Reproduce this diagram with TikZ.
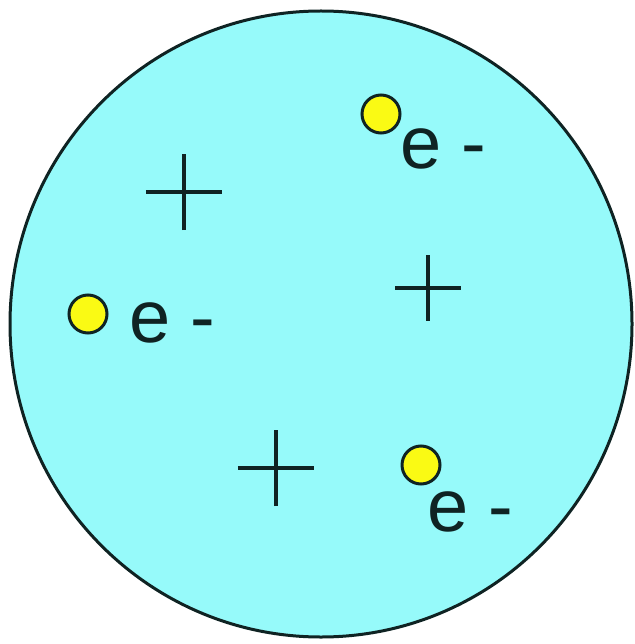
\documentclass[tikz,border=0pt]{standalone}
\usepackage{fontspec}
\setmainfont{Liberation Sans}
\usetikzlibrary{shapes.misc}
\definecolor{plasma}{RGB}{150,250,250}
\definecolor{edge}{RGB}{15,35,35}
\definecolor{electron}{RGB}{250,250,20}
\tikzset{
  elec/.style={circle,draw=edge,fill=electron,line width=3pt,inner sep=0pt,minimum size=38pt},
  ion/.style={cross out,draw=edge,line width=4pt,rotate=45,inner sep=0pt,minimum size=#1},
  lbl/.style={anchor=base west,inner sep=0pt,text=edge,font=\fontsize{74}{80}\selectfont}
}
\begin{document}
\begin{tikzpicture}[x=1pt,y=-1pt]
  \useasboundingbox (0,0) rectangle (634,644);
  \draw[edge,fill=plasma,line width=3pt] (321,324) ellipse [x radius=311,y radius=313];
  % electrons
  \node[elec] (e1) at (381,114) {};
  \node[elec] (e2) at (88,314) {};
  \node[elec] (e3) at (421,465) {};
  \node[lbl] (l1) at (400,169) {e -};
  \node[lbl] (l2) at (129,342) {e -};
  \node[lbl] (l3) at (427,531) {e -};
  % ions
  \node[ion=50pt] (p1) at (184,192) {};
  \node[ion=42pt] (p2) at (428,288) {};
  \node[ion=50pt] (p3) at (276,468) {};
\end{tikzpicture}
\end{document}
